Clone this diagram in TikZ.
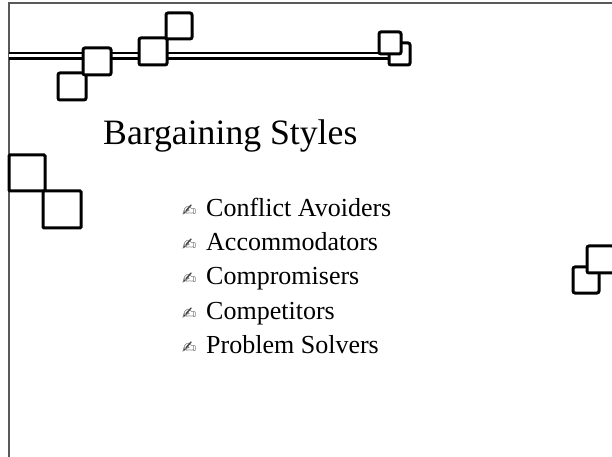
\documentclass[tikz,border=0pt]{standalone}
\usepackage{fontspec}
\setmainfont{Liberation Serif}
\newfontfamily\symfont{DejaVu Sans}
\definecolor{framegray}{gray}{0.35}
\begin{document}
\begin{tikzpicture}[x=1bp,y=-1bp,
  frameline/.style={draw=framegray, line width=1.5bp},
  railline/.style={draw=black, line width=2.4bp, double=white, double distance=3bp},
  tile/.style={draw=black, line width=3bp, fill=white, rounded corners=2bp},
  titletext/.style={anchor=base west, inner sep=0pt, font=\fontsize{35.7bp}{40bp}\selectfont},
  itemtext/.style={anchor=base west, inner sep=0pt, font=\fontsize{26bp}{30bp}\selectfont},
  bulletmark/.style={anchor=base west, inner sep=0pt, text=black!75, font=\symfont\fontsize{17bp}{20bp}\selectfont}]
\useasboundingbox (0,0) rectangle (612,457);

% frame along the top and left edges
\draw[frameline] (9,457) -- (9,3) -- (612,3);

% double rail across the top
\draw[railline] (9,55.8) -- (392,55.8);

% tiles along the rail
\draw[tile] (58,73) rectangle (86,100);
\draw[tile] (83,48) rectangle (111,75);
\draw[tile] (139,38) rectangle (167,65);
\draw[tile] (166,13) rectangle (192,39);
\draw[tile] (389,43) rectangle (410,65);
\draw[tile] (379,32) rectangle (401,54);

% tiles on the left edge
\draw[tile, rounded corners=1bp] (9,155) rectangle (45,191);
\draw[tile, rounded corners=1bp] (43,191) rectangle (81,228);

% tiles on the right edge
\draw[tile] (573,267) rectangle (599,293);
\draw[tile] (587,246) rectangle (614,273);

% heading
\node[titletext] (title) at (103,145) {Bargaining Styles};

% bullet list
\node[bulletmark] (b1) at (182,217) {✍};
\node[itemtext] (i1) at (206,217) {Conflict Avoiders};
\node[bulletmark] (b2) at (182,251) {✍};
\node[itemtext] (i2) at (206,251) {Accommodators};
\node[bulletmark] (b3) at (182,285) {✍};
\node[itemtext] (i3) at (206,285) {Compromisers};
\node[bulletmark] (b4) at (182,319) {✍};
\node[itemtext] (i4) at (206,319) {Competitors};
\node[bulletmark] (b5) at (182,353) {✍};
\node[itemtext] (i5) at (206,353) {Problem Solvers};
\end{tikzpicture}
\end{document}
